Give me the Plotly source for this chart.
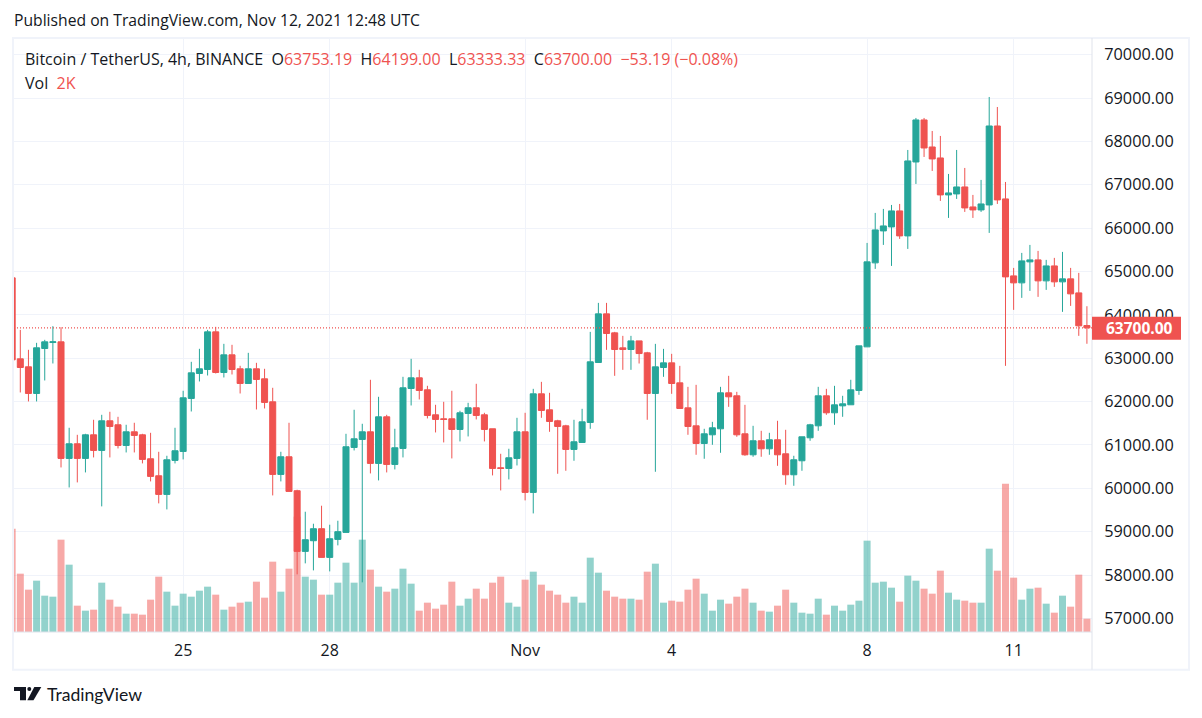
import pandas as pd
import plotly.graph_objects as go

# 4h candles, Oct 21 12:00 to Nov 12 12:00 (BTCUSDT)
times = pd.date_range("2021-10-21 12:00", periods=133, freq="4h")

opens = [64853, 62986, 62802, 62187, 63224, 63362, 63378, 60689, 61027, 60689, 61234, 60873, 61557, 61465,
         60988, 61303, 61234, 60681, 60289, 59859, 60643, 60850, 62072, 62648, 62740, 63608, 62671, 63078,
         62756, 62418, 62756, 62525, 61995, 60320, 60727, 59944, 58545, 58791, 59068, 58407, 58822, 58983,
         60942, 61127, 61303, 60574, 61649, 60550, 60919, 62302, 62548, 62272, 61695, 61603, 61603, 61357,
         61726, 61857, 61695, 61373, 60474, 60458, 60689, 61303, 59905, 62179, 61810, 61557, 61441, 60896,
         61057, 61518, 62901, 64023, 63585, 63239, 63201, 63400, 63124, 62187, 62786, 62893, 62432, 61856,
         61441, 61034, 61234, 61372, 62202, 62133, 61257, 60773, 61096, 60911, 61119, 60796, 60312, 60635,
         61165, 61441, 62133, 61741, 61902, 61926, 62256, 63262, 65199, 65936, 66028, 66397, 65821, 67526,
         68495, 67872, 67619, 66766, 66789, 66950, 66489, 66420, 66535, 68356, 66674, 64899, 64738, 65222,
         65268, 64784, 65129, 64761, 64830, 64507, 63753.19]
highs = [64853, 63654, 63194, 63355, 63424, 63739, 63716, 61396, 61234, 61257, 61580, 61695, 61765, 61649,
         61465, 61511, 61257, 61280, 60842, 60750, 61396, 62249, 62917, 63217, 63654, 63724, 63332, 63309,
         62825, 63124, 62894, 62756, 62318, 60842, 61511, 59967, 59460, 59183, 59598, 59160, 59252, 61257,
         61811, 61488, 62502, 62110, 61695, 61373, 62571, 62986, 62733, 62364, 61926, 61995, 62249, 61788,
         61972, 62410, 61741, 61373, 60796, 60912, 61626, 61741, 62294, 62455, 62202, 61580, 61464, 61580,
         61833, 63608, 64276, 64276, 63608, 63516, 63516, 63400, 63147, 63331, 63216, 63101, 62824, 62340,
         62386, 61372, 61533, 62340, 62594, 62225, 61925, 61441, 61326, 61280, 61557, 61349, 60750, 61188,
         61487, 62340, 62294, 62363, 62133, 62502, 63285, 65659, 66351, 66443, 66535, 66558, 67803, 68541,
         68541, 68241, 68126, 67250, 67803, 67388, 66766, 67112, 69025, 68794, 67065, 65083, 65429, 65613,
         65475, 65268, 65314, 65452, 65083, 64968, 64199.00]
lows = [62900, 62210, 62003, 62003, 62487, 62879, 60481, 60020, 60136, 60366, 60712, 59583, 60712, 60919,
        60827, 60827, 60574, 60159, 59652, 59513, 60574, 60666, 61772, 62464, 62602, 62648, 62556, 62625,
        62187, 62418, 61818, 61841, 59836, 60159, 59928, 58015, 58269, 58107, 58407, 58084, 58684, 58983,
        60873, 57831, 60343, 60182, 60366, 60435, 60712, 61910, 62049, 61611, 61288, 61058, 60689, 61081,
        61196, 61588, 61081, 60297, 59951, 60205, 60527, 59721, 59421, 61626, 61303, 60335, 60404, 60635,
        61057, 61372, 62901, 63193, 62594, 62732, 62732, 62878, 61580, 60381, 62571, 62179, 61841, 61234,
        60773, 60681, 61003, 60819, 61879, 61188, 60750, 60727, 60727, 60773, 60519, 60082, 60058, 60404,
        61096, 61326, 61695, 61464, 61649, 61926, 62156, 63262, 65060, 65613, 65129, 65752, 65521, 67019,
        67642, 67319, 66628, 66236, 66674, 66374, 66236, 66374, 65890, 66558, 62824, 64115, 64392, 64553,
        64415, 64576, 64645, 64069, 64207, 63516, 63333.33]
closes = [62963, 62786, 62187, 63240, 63378, 63378, 60689, 61027, 60689, 61234, 60873, 61557, 61426, 60988,
          61303, 61219, 60666, 60274, 59859, 60658, 60866, 62087, 62663, 62756, 63608, 62671, 63078, 62740,
          62418, 62756, 62510, 61980, 60320, 60727, 59928, 58545, 58814, 59068, 58407, 58837, 59000, 60958,
          61142, 61303, 60574, 61649, 60550, 60935, 62318, 62548, 62256, 61680, 61588, 61588, 61357, 61741,
          61857, 61680, 61357, 60458, 60458, 60704, 61303, 59905, 62179, 61795, 61541, 61426, 60896, 61073,
          61533, 62917, 64023, 63570, 63201, 63201, 63400, 63108, 62187, 62801, 62893, 62417, 61841, 61426,
          61034, 61257, 61395, 62202, 62110, 61234, 60773, 61096, 60911, 61119, 60773, 60312, 60658, 61188,
          61464, 62133, 61741, 61925, 61948, 62271, 63285, 65222, 65959, 66051, 66397, 65821, 67550, 68495,
          67849, 67596, 66766, 66812, 66950, 66466, 66420, 66558, 68356, 66651, 64876, 64738, 65245, 65268,
          64784, 65129, 64761, 64830, 64484, 63747, 63700.00]
volumes = [15500, 8750, 6350, 7700, 5450, 5300, 13850, 10100, 3950, 3200, 3350, 7400, 4850, 3800, 2750, 2750,
           2600, 4850, 8300, 6050, 3950, 5750, 5300, 6200, 6800, 5600, 3350, 3800, 4400, 4550, 7550, 5150,
           10550, 6050, 9500, 17300, 8300, 7850, 5600, 5600, 7400, 10400, 7400, 13850, 9350, 6800, 6050, 6500,
           9500, 7250, 3200, 4400, 3500, 4100, 7550, 3950, 5000, 6500, 5000, 7400, 8300, 4400, 3800, 7850,
           9050, 7100, 6200, 5600, 4400, 5300, 4400, 11150, 8900, 6200, 5300, 5000, 5000, 4850, 9050, 10250,
           4400, 4700, 4550, 6350, 8000, 5750, 3200, 4850, 4250, 5300, 6500, 4400, 3200, 3050, 3950, 6350,
           4400, 2900, 2750, 5000, 2600, 3950, 3200, 4100, 4700, 13700, 7400, 7550, 6650, 4550, 8450, 7700,
           6500, 5750, 9200, 5900, 4850, 4700, 4400, 4400, 12500, 9200, 22250, 8150, 4850, 6500, 6650, 4250,
           2900, 5450, 3800, 8600, 2000]

date_ticks = ["2021-10-25", "2021-10-28", "2021-11-01", "2021-11-04", "2021-11-08", "2021-11-11"]
date_labels = ["25", "28", "Nov", "4", "8", "11"]
price_ticks = [57000, 58000, 59000, 60000, 61000, 62000, 63000, 64000, 65000, 66000, 67000, 68000, 69000, 70000]
last_price = 63700.00

GREEN = "#26a69a"
RED = "#ef5350"
DARK = "#131722"
FONT = "Open Sans"

W, H = 1202, 718
LEFT, RIGHT, TOP, BOTTOM = 14, 1092, 39, 632.3


def px(x):
    return (x - LEFT) / (RIGHT - LEFT)


def py(y):
    return 1 - (y - TOP) / (BOTTOM - TOP)


vol_colors = ["rgba(38,166,154,0.5)" if c >= o else "rgba(239,83,80,0.5)" for o, c in zip(opens, closes)]

fig = go.Figure()
fig.add_trace(go.Bar(x=times, y=volumes, marker=dict(color=vol_colors, line_width=0), yaxis="y"))
fig.add_trace(go.Candlestick(
    x=times, open=opens, high=highs, low=lows, close=closes, yaxis="y2",
    increasing=dict(line=dict(color=GREEN, width=1), fillcolor=GREEN),
    decreasing=dict(line=dict(color=RED, width=1), fillcolor=RED),
))

# frame, axis lines and the last price line
shapes = [
    dict(type="rect", xref="paper", yref="paper", x0=px(13), x1=px(1189), y0=py(670), y1=py(38),
         line=dict(color="#f0f3fa", width=2), layer="below"),
    dict(type="line", xref="paper", yref="paper", x0=px(1092), x1=px(1092), y0=py(670), y1=py(38),
         line=dict(color="#e0e3eb", width=1)),
    dict(type="line", xref="paper", yref="paper", x0=0, x1=1, y0=0, y1=0,
         line=dict(color="#e0e3eb", width=1)),
    dict(type="line", xref="paper", yref="y2", x0=0, x1=1, y0=last_price, y1=last_price,
         line=dict(color=RED, width=1.2, dash="1px,2px")),
    # last price label box
    dict(type="rect", xref="paper", yref="paper", x0=px(1092), x1=px(1181), y0=py(340), y1=py(317),
         fillcolor=RED, line_width=0),
    # TradingView logo
    dict(type="path", xref="paper", yref="paper", fillcolor=DARK, line_width=0,
         path=f"M{px(14)},{py(687.3)} L{px(26)},{py(687.3)} L{px(26)},{py(700.7)} L{px(20)},{py(700.7)} "
              f"L{px(20)},{py(691.3)} L{px(14)},{py(691.3)} Z"),
    dict(type="circle", xref="paper", yref="paper", fillcolor=DARK, line_width=0,
         x0=px(27.3), x1=px(31.3), y0=py(691.3), y1=py(687.3)),
    dict(type="path", xref="paper", yref="paper", fillcolor=DARK, line_width=0,
         path=f"M{px(34.3)},{py(687.3)} L{px(41.3)},{py(687.3)} L{px(33.5)},{py(700.7)} L{px(27.3)},{py(700.7)} Z"),
]

red = f'<span style="color:{RED}">'
header = (f"Bitcoin / TetherUS, 4h, BINANCE  O{red}63753.19</span>  H{red}64199.00</span>  "
          f"L{red}63333.33</span>  C{red}63700.00</span>  {red}−53.19 (−0.08%)</span>")

annotations = [
    dict(text="Published on TradingView.com, Nov 12, 2021 12:48 UTC", xref="paper", yref="paper",
         x=px(12), y=py(20), xanchor="left", yanchor="middle", showarrow=False,
         font=dict(family=FONT, size=15.7, color=DARK)),
    dict(text=header, xref="paper", yref="paper", x=px(23), y=py(59), xanchor="left", yanchor="middle",
         showarrow=False, font=dict(family=FONT, size=16, color=DARK)),
    dict(text=f"Vol  {red}2K</span>", xref="paper", yref="paper", x=px(23), y=py(83), xanchor="left",
         yanchor="middle", showarrow=False, font=dict(family=FONT, size=16, color=DARK)),
    dict(text=f"<b>{last_price:.2f}</b>", xref="paper", yref="y2", x=px(1104), y=last_price, xanchor="left",
         yanchor="middle", showarrow=False, font=dict(family=FONT, size=15.5, color="white")),
    dict(text="TradingView", xref="paper", yref="paper", x=px(45), y=py(695), xanchor="left", yanchor="middle",
         showarrow=False, font=dict(family="Lato", size=17.6, color=DARK)),
]

fig.update_layout(
    width=W, height=H, autosize=False,
    margin=dict(l=LEFT, r=W - RIGHT, t=TOP, b=H - BOTTOM, pad=0),
    paper_bgcolor="white", plot_bgcolor="white",
    showlegend=False, bargap=0.14, boxgap=0.26, boxgroupgap=0,
    shapes=shapes, annotations=annotations,
    font=dict(family=FONT, size=16, color=DARK),
    xaxis=dict(
        type="date", range=[times[0] + pd.Timedelta(hours=0.9), times[0] + pd.Timedelta(hours=530.5)],
        tickvals=date_ticks, ticktext=date_labels, tickangle=0,
        showgrid=True, gridcolor="#f0f3fa", gridwidth=1, zeroline=False, showline=False,
        ticks="outside", ticklen=4, tickcolor="rgba(0,0,0,0)",
        rangeslider=dict(visible=False),
    ),
    yaxis=dict(range=[0, 88950], visible=False, fixedrange=True),
    yaxis2=dict(
        overlaying="y", side="right", range=[56686, 70362],
        tickvals=price_ticks, tickformat=".2f", tickfont=dict(size=16.3),
        showgrid=True, gridcolor="#f0f3fa", gridwidth=1, zeroline=False, showline=False,
        ticks="outside", ticklen=8, tickcolor="rgba(0,0,0,0)",
    ),
)

fig.write_html("out.html", config=dict(displayModeBar=False), post_script="document.body.style.margin='0';")
